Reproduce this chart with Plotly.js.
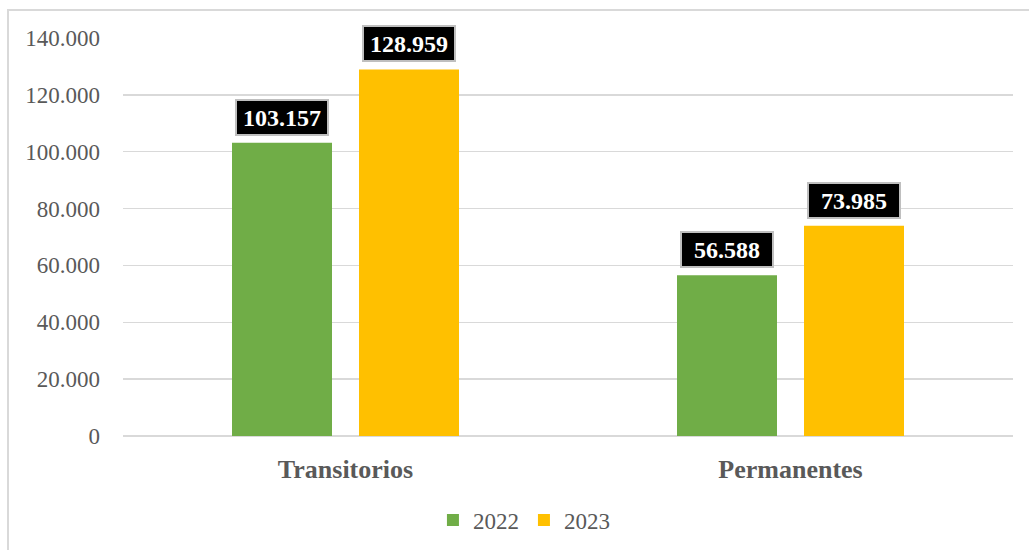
<!DOCTYPE html>
<html>
<head>
<meta charset="utf-8">
<script src="https://cdn.plot.ly/plotly-3.0.1.min.js"></script>
<style>
  html, body { margin: 0; padding: 0; background: #fff; }
  #wrap { position: relative; width: 1029px; height: 550px; overflow: hidden; }
  #frame { position: absolute; left: 7px; top: 9px; width: 1100px; height: 600px;
           border-left: 2px solid #d9d9d9; border-top: 2px solid #d9d9d9; box-sizing: border-box; }
  #chart { position: absolute; left: 0; top: 0; width: 1029px; height: 550px; }
</style>
</head>
<body>
<div id="wrap">
  <div id="frame"></div>
  <div id="chart"></div>
</div>
<script>
const categories = ["Transitorios", "Permanentes"];
const years = ["2022", "2023"];
const values2022 = [103157, 56588];
const values2023 = [128959, 73985];
const colors = ["#70AD47", "#FFC000"];

const serif = "Liberation Serif, Times New Roman, serif";
const grey = "#595959";

function fmt(v) {
  return String(v).replace(/\B(?=(\d{3})+(?!\d))/g, ".");
}

const series = [values2022, values2023];
const traces = series.map((vals, i) => ({
  type: "bar",
  name: years[i],
  x: categories,
  y: vals,
  marker: { color: colors[i] },
  hoverinfo: "skip"
}));

const bargap = 0.4292;
const slot = (1 - bargap) / 2;
const annotations = [];
series.forEach((vals, s) => {
  vals.forEach((v, c) => {
    annotations.push({
      x: c + (s === 0 ? -slot / 2 : slot / 2),
      y: v,
      xref: "x", yref: "y",
      text: "<b>" + fmt(v) + "</b>",
      showarrow: false,
      yanchor: "bottom",
      xanchor: "center",
      yshift: 7,
      font: { family: serif, size: 24, color: "#ffffff" },
      bgcolor: "#000000",
      bordercolor: "#bfbfbf",
      borderwidth: 2,
      borderpad: 3,
      width: 84,
      height: 27
    });
  });
});

const layout = {
  width: 1029,
  height: 550,
  margin: { l: 123, r: 16, t: 38, b: 114, autoexpand: false },
  paper_bgcolor: "rgba(0,0,0,0)",
  plot_bgcolor: "rgba(0,0,0,0)",
  separators: ",.",
  barmode: "group",
  bargap: bargap,
  bargroupgap: 0.2126,
  font: { family: serif, color: grey },
  xaxis: {
    type: "category",
    tickfont: { family: serif, size: 26, color: grey, weight: "bold" },
    showgrid: false,
    showline: false,
    ticks: "",
    ticklabelstandoff: 15,
    automargin: false,
    fixedrange: true
  },
  yaxis: {
    range: [0, 140000],
    dtick: 20000,
    tick0: 0,
    tickformat: ",d",
    tickfont: { family: serif, size: 23, color: grey },
    gridcolor: "#d9d9d9",
    gridwidth: 1.5,
    zeroline: true,
    zerolinecolor: "#d9d9d9",
    zerolinewidth: 1.5,
    showline: false,
    ticks: "",
    ticklabelstandoff: 22,
    automargin: false,
    fixedrange: true
  },
  showlegend: true,
  legend: {
    orientation: "h",
    x: 0.4505,
    xanchor: "center",
    y: -0.211,
    yanchor: "middle",
    font: { family: serif, size: 23, color: grey },
    itemclick: false,
    itemdoubleclick: false
  },
  annotations: annotations
};

Plotly.newPlot("chart", traces, layout, { displayModeBar: false, staticPlot: true });
</script>
</body>
</html>
